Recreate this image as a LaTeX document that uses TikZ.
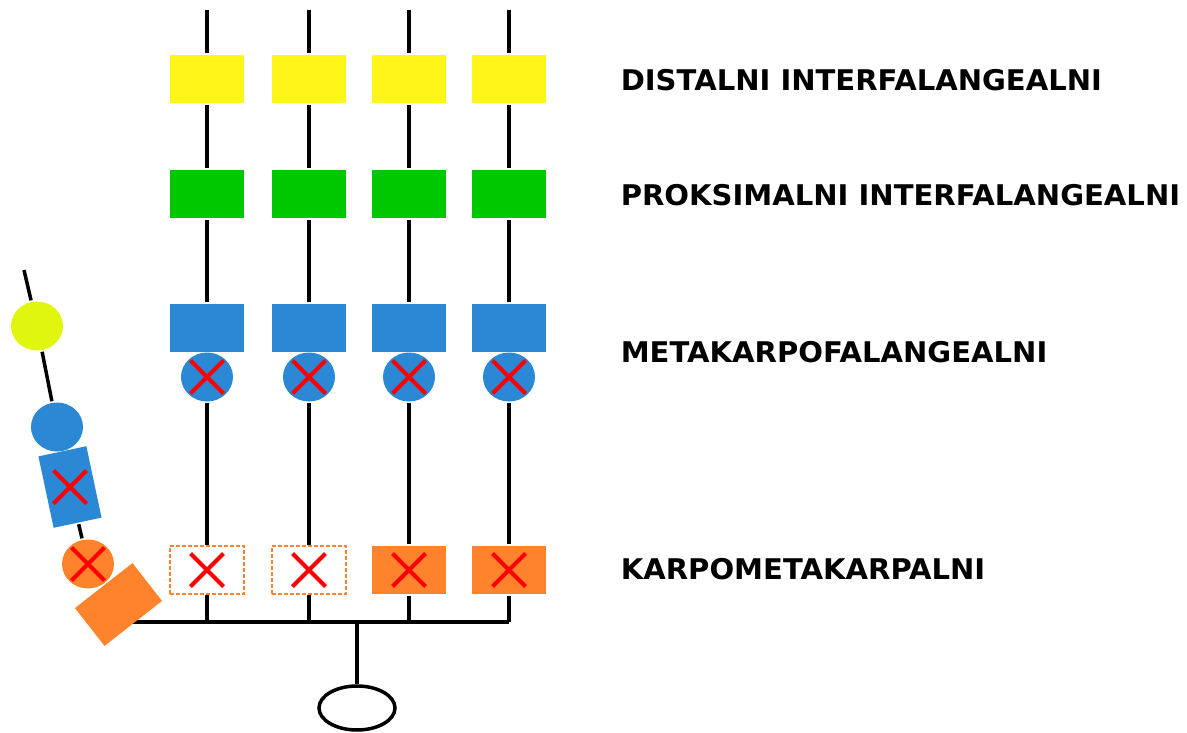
\documentclass[tikz,border=0pt]{standalone}
\usepackage{fontspec}
\newfontfamily\jointfont{DejaVu Sans}
\usetikzlibrary{shapes.geometric,shapes.misc}

\definecolor{dipyellow}{RGB}{255,245,25}
\definecolor{pipgreen}{RGB}{0,200,0}
\definecolor{mcpblue}{RGB}{42,136,213}
\definecolor{cmcorange}{RGB}{255,130,45}
\definecolor{ipyellow}{RGB}{224,246,15}

\tikzset{
  joint/.style={rectangle,minimum width=74pt,minimum height=48pt,inner sep=0pt},
  ball/.style={ellipse,minimum width=52pt,minimum height=49pt,inner sep=0pt},
  cmcfull/.style={joint,fill=cmcorange},
  cmcopen/.style={joint,draw=cmcorange,fill=white,line width=2pt,dash pattern=on 4pt off 2pt},
  xmark/.style={cross out,draw=red,line width=4pt,minimum size=29pt,inner sep=0pt},
  palm/.style={ellipse,draw,minimum width=76pt,minimum height=44pt},
  jointlabel/.style={anchor=base west,inner sep=0pt,xscale=1.02,font=\jointfont\bfseries\fontsize{28.5}{30}\selectfont}
}

\begin{document}
\begin{tikzpicture}[x=1pt,y=-1pt,line width=3.5pt]
\useasboundingbox (0,0) rectangle (1187,733);
		\coordinate (busL) at (130,622);
		\coordinate (busR) at (509,622);
		\coordinate (stem) at (357,622);
		\node[palm] (wrist) at (357,708) {};
		\draw (busL)--(busR);
		\draw (stem)--(wrist);
		\foreach \x/\n/\s in {207/1/cmcopen,309/2/cmcopen,409/3/cmcfull,509/4/cmcfull}{
			\coordinate (top\n) at (\x,10);
			\coordinate (base\n) at (\x,622);
			\node[joint,fill=dipyellow] (dip\n) at (\x,79) {};
			\node[joint,fill=pipgreen] (pip\n) at (\x,194) {};
			\node[joint,fill=mcpblue] (mcp\n) at (\x,328) {};
			\node[ball,fill=mcpblue] (mcb\n) at (\x,377) {};
			\node[\s] (cmc\n) at (\x,570) {};
			\draw (top\n)--(dip\n)--(pip\n)--(mcp\n);
			\draw (mcb\n)--(cmc\n)--(base\n);
			\node[xmark] at (mcb\n) {};
			\node[xmark] at (cmc\n) {};
		}
		\coordinate (thtop) at (24,270);
		\node[ball,fill=ipyellow] (ip) at (37,326) {};
		\node[ball,fill=mcpblue] (thmcb) at (57,427) {};
		\node[joint,minimum width=49pt,minimum height=73pt,rotate=12,fill=mcpblue] (thmcp) at (70,487) {};
		\node[ball,fill=cmcorange] (thcmb) at (88,564) {};
		\node[joint,minimum width=73pt,minimum height=48pt,rotate=38,fill=cmcorange] (thcmc) at (118.5,604.5) {};
		\draw (thtop)--(ip)--(thmcb);
		\draw (thmcp)--(thcmb);
		\node[xmark] at (thmcp) {};
		\node[xmark] at (thcmb) {};
		\node[jointlabel] (dipl) at (619,91) {DISTALNI INTERFALANGEALNI};
		\node[jointlabel] (pipl) at (619,206) {PROKSIMALNI INTERFALANGEALNI};
		\node[jointlabel] (mcpl) at (619,362) {METAKARPOFALANGEALNI};
		\node[jointlabel] (cmcl) at (619,579) {KARPOMETAKARPALNI};
\end{tikzpicture}
\end{document}
